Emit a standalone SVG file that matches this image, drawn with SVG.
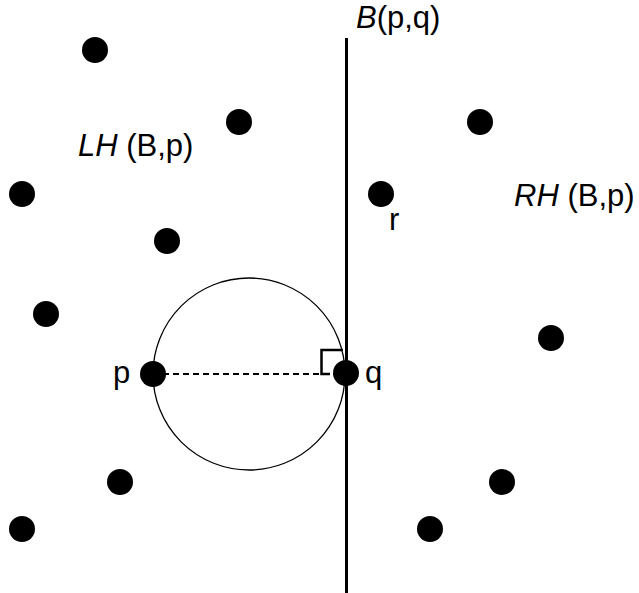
<svg xmlns="http://www.w3.org/2000/svg" width="639" height="593" viewBox="0 0 639 593">
<style>
.pt{fill:#000}
.lbl{font-family:"Liberation Sans",Arial,sans-serif;font-size:31px;fill:#000}
.it{font-style:italic}
</style>
<rect width="639" height="593" fill="#fff"/>
<g id="connectors">
<line x1="346.5" y1="38" x2="346.5" y2="593" stroke="#000" stroke-width="3"/>
<circle cx="249" cy="374" r="96" fill="none" stroke="#000" stroke-width="1.3"/>
<line x1="153" y1="374" x2="345" y2="374" stroke="#000" stroke-width="2" stroke-dasharray="6,4"/>
<polyline points="343,350 321.5,350 321.5,374 330,374" fill="none" stroke="#000" stroke-width="2.5"/>
</g>
<g id="labels">
<text class="lbl" x="356" y="28"><tspan class="it">B</tspan>(p,q)</text>
<text class="lbl" x="78" y="156"><tspan class="it">LH</tspan> (B,p)</text>
<text class="lbl" x="514" y="206"><tspan class="it">RH</tspan> (B,p)</text>
</g>
<g id="p"><circle class="pt" cx="153" cy="374" r="13"/><text class="lbl" x="113" y="383">p</text></g>
<g id="q"><circle class="pt" cx="346" cy="373" r="13"/><text class="lbl" x="365" y="383">q</text></g>
<g id="r"><circle class="pt" cx="381" cy="194" r="13"/><text class="lbl" x="389" y="230">r</text></g>
<g id="n1"><circle class="pt" cx="95" cy="50" r="13"/></g>
<g id="n2"><circle class="pt" cx="239" cy="122" r="13"/></g>
<g id="n3"><circle class="pt" cx="22" cy="194" r="13"/></g>
<g id="n4"><circle class="pt" cx="167" cy="241" r="13"/></g>
<g id="n5"><circle class="pt" cx="46" cy="314" r="13"/></g>
<g id="n6"><circle class="pt" cx="120" cy="482" r="13"/></g>
<g id="n7"><circle class="pt" cx="22" cy="529" r="13"/></g>
<g id="n8"><circle class="pt" cx="480" cy="122" r="13"/></g>
<g id="n9"><circle class="pt" cx="551" cy="338" r="13"/></g>
<g id="n10"><circle class="pt" cx="502" cy="482" r="13"/></g>
<g id="n11"><circle class="pt" cx="430" cy="529" r="13"/></g>
</svg>
